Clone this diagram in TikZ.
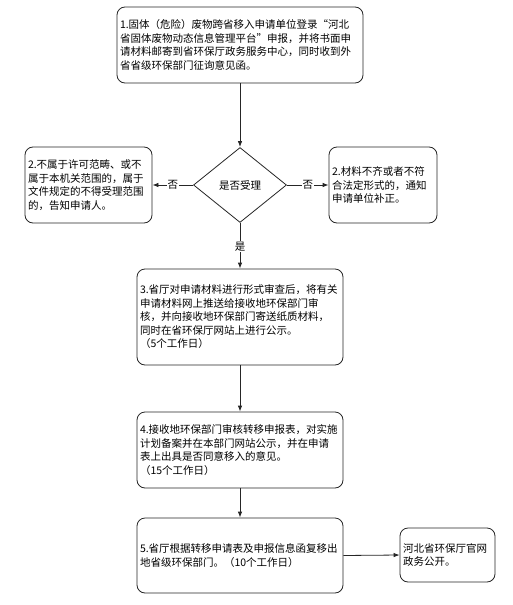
\documentclass[tikz,border=0pt]{standalone}
\usepackage{fontspec}
\setmainfont{Noto Sans CJK SC}
\usetikzlibrary{shapes.geometric,arrows.meta}
\tikzset{
  box/.style={draw=black!85, line width=0.8pt, rounded corners=8pt, inner xsep=3pt, inner ysep=0pt,
    align=left, anchor=center, font=\fontsize{10.5}{13.5}\selectfont},
  dia/.style={draw=black!85, line width=0.8pt, shape=diamond, aspect=1.24, inner sep=0pt,
    minimum width=93pt, minimum height=75pt, font=\fontsize{10.5}{13.5}\selectfont},
  conn/.style={draw=black!85, line width=0.8pt, -{Latex[length=6pt,width=4.5pt]}},
  lab/.style={fill=white, inner sep=1pt, font=\fontsize{10.5}{13.5}\selectfont}
}
\begin{document}
\begin{tikzpicture}[x=1pt,y=-1pt]
\useasboundingbox (0,0) rectangle (512,605);
\fill[white] (0,0) rectangle (512,605);
\node[box, text width=240pt, minimum height=76pt] (b1) at (240,45)
  {1.固体（危险）废物跨省移入申请单位登录“河北\\省固体废物动态信息管理平台”申报，并将书面申\\请材料邮寄到省环保厅政务服务中心，同时收到外\\省省级环保部门征询意见函。};
\node[dia] (d) at (240,185) {是否受理};
\node[box, text width=121pt, minimum height=76pt] (l2) at (88.5,185)
  {2.不属于许可范畴、或不\\属于本机关范围的，属于\\文件规定的不得受理范围\\的，告知申请人。};
\node[box, text width=102pt, minimum height=76pt] (r2) at (383,185)
  {2.材料不齐或者不符\\合法定形式的，通知\\申请单位补正。};
\node[box, text width=200pt, minimum height=96pt] (b3) at (240,317)
  {3.省厅对申请材料进行形式审查后，将有关\\申请材料网上推送给接收地环保部门审\\核，并向接收地环保部门寄送纸质材料，\\同时在省环保厅网站上进行公示。\\（5个工作日）};
\node[box, text width=200pt, minimum height=76pt] (b4) at (240,450)
  {4.接收地环保部门审核转移申报表，对实施\\计划备案并在本部门网站公示，并在申请\\表上出具是否同意移入的意见。\\（15个工作日）};
\node[box, text width=200pt, minimum height=75pt] (b5) at (240,555.5)
  {5.省厅根据转移申请表及申报信息函复移出\\地省级环保部门。（10个工作日）};
\node[box, text width=89pt, minimum height=54pt] (f) at (447.5,555)
  {河北省环保厅官网\\政务公开。};
\draw[conn] (b1) -- (d);
\draw[conn] (d.west) -- node[lab] (no1) {否} (l2.east);
\draw[conn] (d.east) -- node[lab] (no2) {否} (r2.west);
\draw[conn] (d.south) -- node[lab, pos=0.52] (yes) {是} (b3.north);
\draw[conn] (b3) -- (b4);
\draw[conn] (b4) -- (b5);
\draw[conn] (b5.east) -- (f.west);
\end{tikzpicture}
\end{document}
